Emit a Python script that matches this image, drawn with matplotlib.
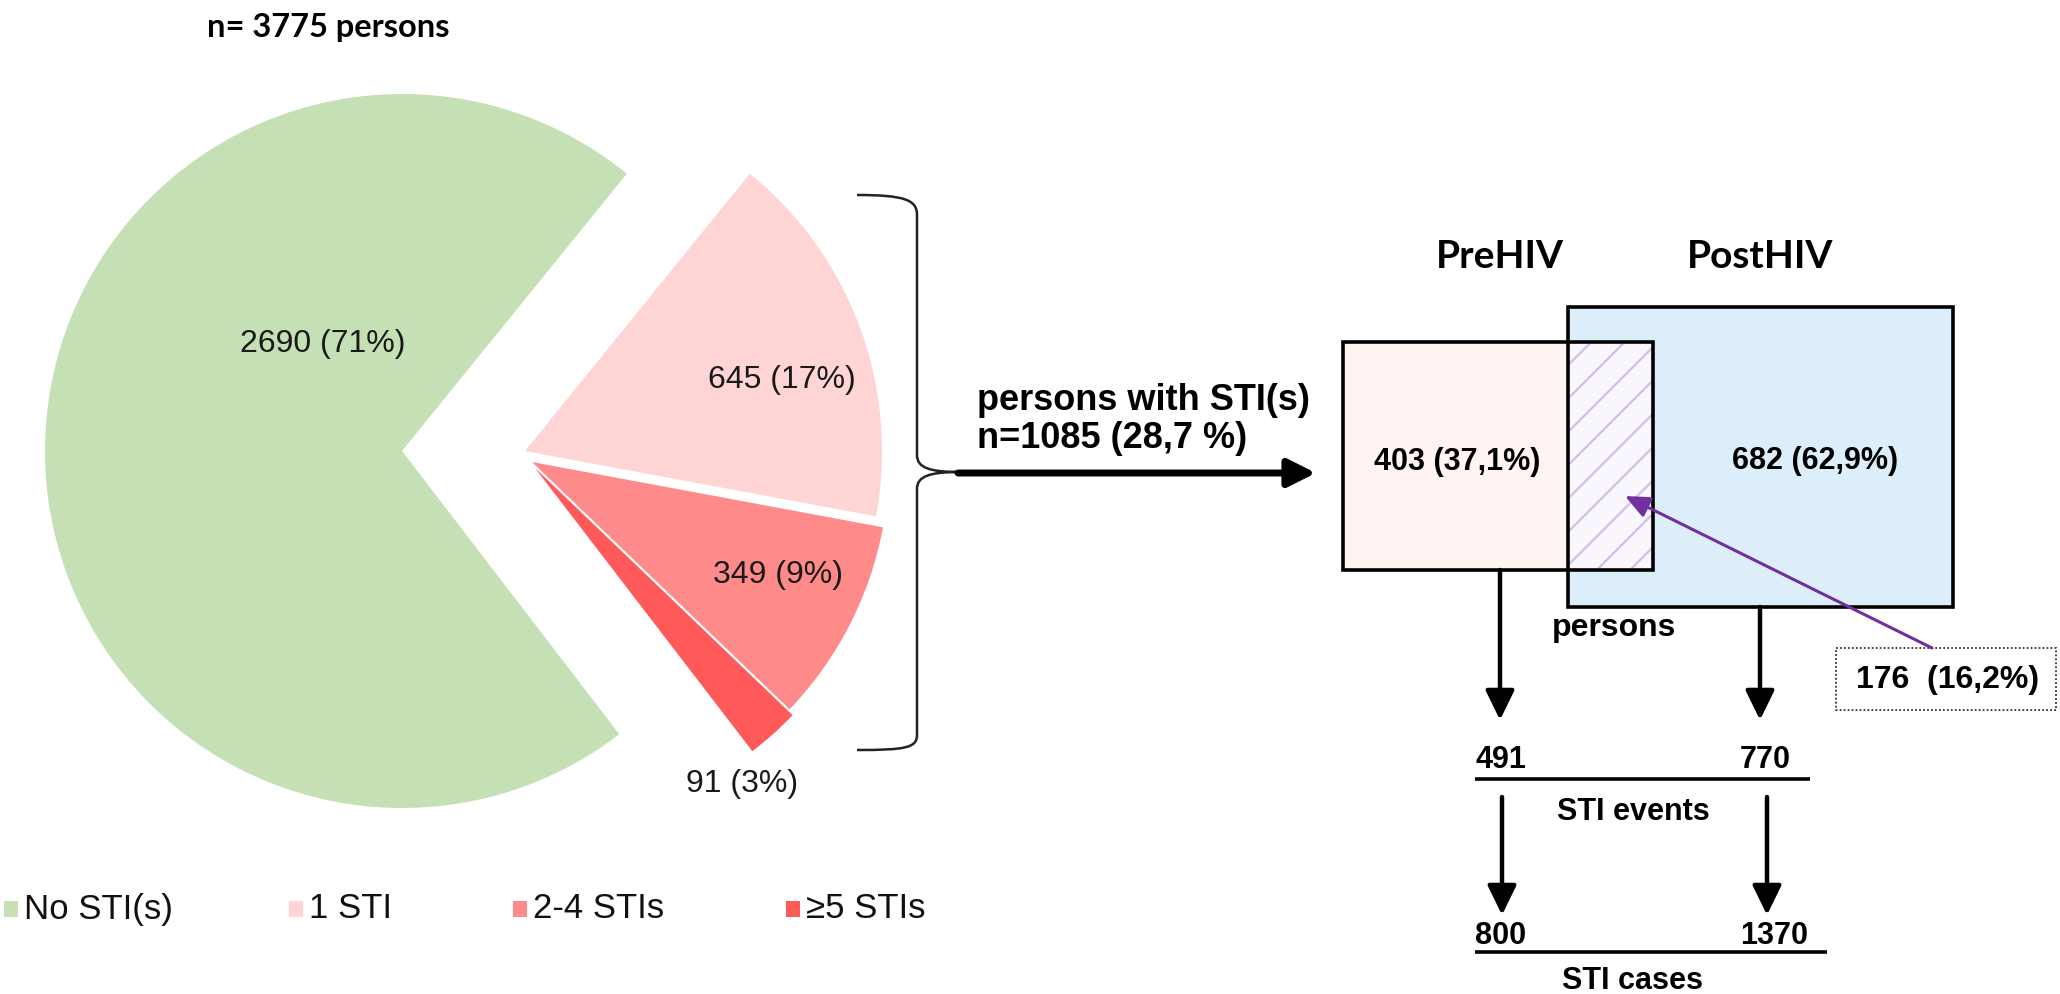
import matplotlib.pyplot as plt
from matplotlib.patches import Rectangle, PathPatch
from matplotlib.path import Path

# pie data
categories = ["No STI(s)", "1 STI", "2-4 STIs", "\u22655 STIs"]
counts = [2690, 645, 349, 91]
pcts = [71, 17, 9, 3]
colors = ["#C5E0B4", "#FFD4D4", "#FF8A8A", "#FF5959"]
total_persons = 3775

# diagram data
groups = ["PreHIV", "PostHIV"]
persons = [403, 682]
overlap = 176
events = [491, 770]
cases = [800, 1370]

ARIAL = ["Liberation Sans", "DejaVu Sans"]
CALIBRI = ["Lato", "DejaVu Sans"]

plt.rcParams["hatch.linewidth"] = 1.6

fig = plt.figure(figsize=(20.6, 9.94), dpi=100)
ax = fig.add_axes([0, 0, 1, 1])

# ---- pie (y axis points down, so counterclock in data = clockwise on screen)
wedges, _ = ax.pie(counts, colors=colors, startangle=52.5, counterclock=True,
                   radius=357, center=(402, 451), wedgeprops=dict(linewidth=0))
shifts = [(0, 0), (123, 0), (130, 11), (133, 17)]
for w, (dx, dy) in zip(wedges, shifts):
    w.set_center((402 + dx, 451 + dy))

label_pos = [(323, 344), (782, 380), (778, 575), (742, 784)]
for n, p, (x, y) in zip(counts, pcts, label_pos):
    ax.text(x, y, f"{n} ({p}%)", ha="center", va="center", fontsize=23,
            family=ARIAL, color="#1a1a1a")

ax.text(328, 28, f"n= {total_persons} persons", ha="center", va="center",
        fontsize=23.5, fontweight="bold", family=CALIBRI)

# legend row
sq_x = [4, 289, 513, 786]
for cat, col, x in zip(categories, colors, sq_x):
    ax.add_patch(Rectangle((x, 901), 14, 16, color=col, lw=0))
    ax.text(x + 20, 909, cat, ha="left", va="center", fontsize=25,
            family=ARIAL, color="#111111")

# brace
verts = [(857, 195), (905, 195), (917, 200), (917, 215),
         (917, 455),
         (917, 468), (930, 472), (960, 472),
         (930, 472), (917, 476), (917, 489),
         (917, 735),
         (917, 748), (905, 750), (857, 750)]
codes = [Path.MOVETO, Path.CURVE4, Path.CURVE4, Path.CURVE4,
         Path.LINETO,
         Path.CURVE4, Path.CURVE4, Path.CURVE4,
         Path.CURVE4, Path.CURVE4, Path.CURVE4,
         Path.LINETO,
         Path.CURVE4, Path.CURVE4, Path.CURVE4]
ax.add_patch(PathPatch(Path(verts, codes), fill=False, lw=1.8, edgecolor="#222222"))

sti_n = sum(counts[1:])
ax.annotate("", xy=(1316, 473), xytext=(958, 473),
            arrowprops=dict(arrowstyle="-|>,head_length=0.4,head_width=0.2",
                            lw=5, color="black", mutation_scale=42,
                            shrinkA=0, shrinkB=0))
ax.text(977, 400, "persons with STI(s)", ha="left", va="center", fontsize=26,
        fontweight="bold", family=ARIAL)
pct_sti = f"{100 * sti_n / total_persons:.1f}".replace(".", ",")
ax.text(977, 439, f"n={sti_n} ({pct_sti} %)", ha="left", va="center",
        fontsize=26, fontweight="bold", family=ARIAL)

# ---- boxes
pre = (1343, 342, 310, 228)
post = (1568, 307, 385, 300)
ax.add_patch(Rectangle(pre[:2], pre[2], pre[3], facecolor="#FFF4F1", lw=0))
ax.add_patch(Rectangle(post[:2], post[2], post[3], facecolor="#DDEEFB", lw=0))
ax.add_patch(Rectangle((post[0], pre[1]), pre[0] + pre[2] - post[0], pre[3],
                       facecolor="#F9F6FD", edgecolor="#CDC0EA", hatch="/", lw=0))
for b in (post, pre):
    ax.add_patch(Rectangle(b[:2], b[2], b[3], fill=False, edgecolor="black", lw=2.6))

for g, x in zip(groups, [1500, 1760]):
    ax.text(x, 256, g, ha="center", va="center", fontsize=28,
            fontweight="bold", family=CALIBRI)

tot = sum(persons)
for n, (x, y) in zip(persons, [(1457, 462), (1815, 461)]):
    p = f"{100 * n / tot:.1f}".replace(".", ",")
    ax.text(x, y, f"{n} ({p}%)", ha="center", va="center", fontsize=22,
            fontweight="bold", family=ARIAL)

# overlap callout
ax.add_patch(Rectangle((1836, 648), 220, 62, fill=False, edgecolor="#333333",
                       lw=1.3, linestyle=(0, (1, 1.2))))
p = f"{100 * overlap / tot:.1f}".replace(".", ",")
ax.text(1948, 680, f"{overlap}  ({p}%)", ha="center", va="center", fontsize=23,
        fontweight="bold", family=ARIAL)
ax.annotate("", xy=(1625, 496), xytext=(1932, 648),
            arrowprops=dict(arrowstyle="-|>,head_length=0.5,head_width=0.22",
                            lw=2.2, color="#7030A0", mutation_scale=30,
                            shrinkA=0, shrinkB=0))

ax.text(1614, 628, "persons", ha="center", va="center", fontsize=23,
        fontweight="bold", family=ARIAL)

down = dict(arrowstyle="-|>,head_length=0.45,head_width=0.22", lw=3.2,
            color="black", mutation_scale=40, shrinkA=0, shrinkB=0)
ax.annotate("", xy=(1500, 720), xytext=(1500, 570), arrowprops=down)
ax.annotate("", xy=(1760, 720), xytext=(1760, 607), arrowprops=down)

# events / cases rows
for vals, y_txt, y_line, x_end, lab, y_lab in [
        (events, 760, 779, 1810, "STI events", 812),
        (cases, 936, 952, 1827, "STI cases", 981)]:
    for v, x in zip(vals, [1475, 1740]):
        ax.text(x, y_txt, str(v), ha="left", va="center", fontsize=22,
                fontweight="bold", family=ARIAL)
    ax.plot([1475, x_end], [y_line, y_line], color="black", lw=2.6,
            solid_capstyle="butt")
    ax.text(1633, y_lab, lab, ha="center", va="center", fontsize=22,
            fontweight="bold", family=ARIAL)

ax.annotate("", xy=(1502, 915), xytext=(1502, 797), arrowprops=down)
ax.annotate("", xy=(1767, 915), xytext=(1767, 797), arrowprops=down)

ax.set_xlim(0, 2060)
ax.set_ylim(994, 0)
ax.axis("off")

fig.savefig("out.png", dpi=100, facecolor="white")
